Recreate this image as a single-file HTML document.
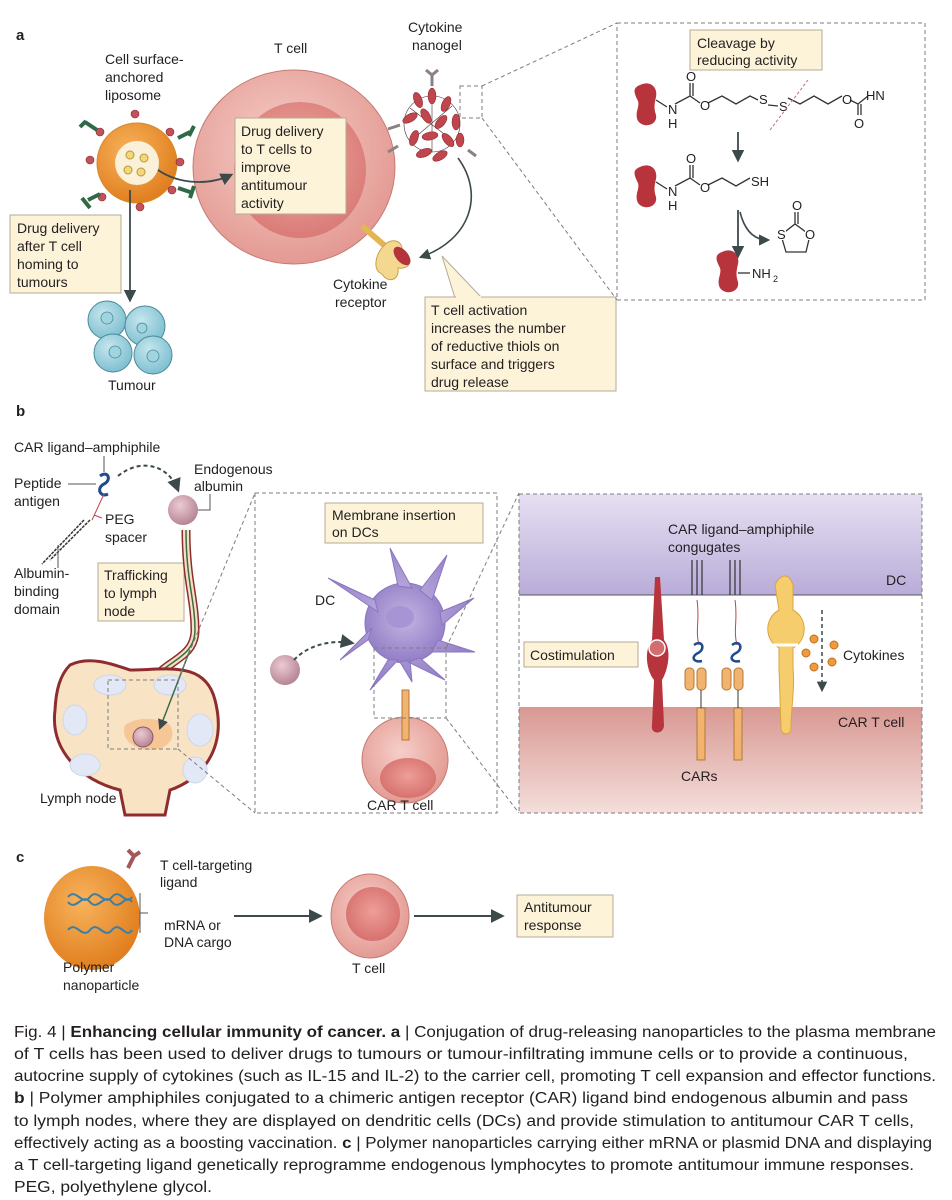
<!DOCTYPE html>
<html><head><meta charset="utf-8"><style>
html,body{margin:0;padding:0;background:#fff;}
svg{display:block;font-family:"Liberation Sans",sans-serif;}
.t{font-size:14px;fill:#231f20;}
.b{fill:#fdf3d9;stroke:#b5ab94;stroke-width:1;}
.d{fill:none;stroke:#7d7d7d;stroke-width:1;stroke-dasharray:4 3;}
.cap{font-size:15.5px;fill:#231f20;}
.ch{font-size:13px;fill:#231f20;}
.bond{stroke:#333;stroke-width:1.3;fill:none;}
</style></head><body>
<svg width="952" height="1200" viewBox="0 0 952 1200" xmlns="http://www.w3.org/2000/svg">
<defs>
<radialGradient id="tc" cx="45%" cy="40%" r="60%"><stop offset="0" stop-color="#f6cfc8"/><stop offset="1" stop-color="#e39a93"/></radialGradient>
<radialGradient id="nuc" cx="50%" cy="45%" r="60%"><stop offset="0" stop-color="#ee9e98"/><stop offset="1" stop-color="#d46d6a"/></radialGradient>
<radialGradient id="or" cx="40%" cy="35%" r="65%"><stop offset="0" stop-color="#f8b35c"/><stop offset="1" stop-color="#e07f1f"/></radialGradient>
<radialGradient id="alb" cx="40%" cy="35%" r="65%"><stop offset="0" stop-color="#eccbd3"/><stop offset="1" stop-color="#b68594"/></radialGradient>
<radialGradient id="dc" cx="50%" cy="45%" r="60%"><stop offset="0" stop-color="#c4b4e2"/><stop offset="1" stop-color="#8d79c4"/></radialGradient>
<radialGradient id="tum" cx="40%" cy="35%" r="65%"><stop offset="0" stop-color="#c6e6ee"/><stop offset="1" stop-color="#7fc0d1"/></radialGradient>
<linearGradient id="pur" x1="0" y1="0" x2="0" y2="1"><stop offset="0" stop-color="#e6e0f2"/><stop offset="1" stop-color="#b9acd9"/></linearGradient>
<linearGradient id="pk" x1="0" y1="0" x2="0" y2="1"><stop offset="0" stop-color="#d99892"/><stop offset="1" stop-color="#f4dedb"/></linearGradient>
<marker id="ar" viewBox="0 0 10 10" refX="8" refY="5" markerWidth="7" markerHeight="7" orient="auto"><path d="M0,0 L10,5 L0,10 z" fill="#3c4a4c"/></marker>
</defs>

<!-- ===== Panel a ===== -->
<text x="16" y="40" style="font-size:15px;font-weight:bold" class="t">a</text>
<text class="t" x="105" y="64">Cell surface-</text>
<text class="t" x="105" y="82">anchored</text>
<text class="t" x="105" y="100">liposome</text>
<text class="t" x="274" y="53">T cell</text>
<text class="t" x="408" y="32">Cytokine</text>
<text class="t" x="412" y="50">nanogel</text>

<ellipse cx="294" cy="167" rx="101" ry="97" fill="url(#tc)" stroke="#c57a74" stroke-width="1"/>
<ellipse cx="300" cy="170" rx="66" ry="68" fill="url(#nuc)" opacity="0.8"/>

<g>
<circle cx="137" cy="163" r="40" fill="url(#or)" stroke="#d48a2c"/>
<circle cx="137" cy="163" r="22" fill="#fbf0d8"/>
<circle cx="130" cy="155" r="4" fill="#f3d77a" stroke="#b39a3b"/>
<circle cx="144" cy="158" r="4" fill="#f3d77a" stroke="#b39a3b"/>
<circle cx="128" cy="170" r="4" fill="#f3d77a" stroke="#b39a3b"/>
<circle cx="141" cy="172" r="4" fill="#f3d77a" stroke="#b39a3b"/>
<g fill="#c4515a" stroke="#7a2a30" stroke-width="0.6">
<circle cx="135" cy="114" r="4"/><circle cx="100" cy="132" r="4"/><circle cx="90" cy="160" r="4"/><circle cx="180" cy="162" r="4"/>
<circle cx="170" cy="132" r="4"/><circle cx="102" cy="197" r="4"/><circle cx="140" cy="207" r="4"/><circle cx="172" cy="190" r="4"/></g>
<g stroke="#2f6a44" stroke-width="4" fill="none">
<path d="M85,122 l12,8 M80,127 l6,-6"/><path d="M190,132 l-12,6 M194,126 l-5,10"/><path d="M88,200 l12,-6 M82,198 l8,10"/><path d="M190,192 l-12,-4 M194,186 l-4,12"/></g>
</g>
<path d="M158,170 C180,185 210,185 231,175" fill="none" stroke="#3c4a4c" stroke-width="1.8" marker-end="url(#ar)"/>

<rect class="b" x="235" y="118" width="111" height="96"/>
<text class="t" x="241" y="136">Drug delivery</text>
<text class="t" x="241" y="154">to T cells to</text>
<text class="t" x="241" y="172">improve</text>
<text class="t" x="241" y="190">antitumour</text>
<text class="t" x="241" y="208">activity</text>

<rect class="b" x="10" y="215" width="111" height="78"/>
<text class="t" x="17" y="233">Drug delivery</text>
<text class="t" x="17" y="251">after T cell</text>
<text class="t" x="17" y="269">homing to</text>
<text class="t" x="17" y="287">tumours</text>
<line x1="130" y1="190" x2="130" y2="300" stroke="#3c4a4c" stroke-width="1.8" marker-end="url(#ar)"/>

<g fill="url(#tum)" stroke="#4a8a9a" stroke-width="1">
<circle cx="107" cy="320" r="19"/><circle cx="145" cy="326" r="20"/><circle cx="113" cy="353" r="19"/><circle cx="153" cy="355" r="19"/></g>
<g fill="#9fd4e0" stroke="#4a8a9a" stroke-width="0.8"><circle cx="107" cy="318" r="6"/><circle cx="142" cy="328" r="5"/><circle cx="115" cy="352" r="6"/><circle cx="153" cy="356" r="6"/></g>
<text class="t" x="108" y="390">Tumour</text>

<g stroke="#4a2b2d" stroke-width="0.6" fill="none"><circle cx="432" cy="124" r="28"/><path d="M410,108 L452,140 M412,140 L452,106 M432,96 L432,152"/></g>
<g fill="#c0454d" stroke="#7d2229" stroke-width="0.5">
<ellipse cx="418" cy="100" rx="4" ry="8" transform="rotate(-20 418 100)"/>
<ellipse cx="432" cy="96" rx="4" ry="8"/>
<ellipse cx="446" cy="104" rx="4" ry="8" transform="rotate(25 446 104)"/>
<ellipse cx="410" cy="118" rx="4" ry="8" transform="rotate(60 410 118)"/>
<ellipse cx="426" cy="116" rx="4" ry="8" transform="rotate(-30 426 116)"/>
<ellipse cx="441" cy="122" rx="4" ry="8" transform="rotate(40 441 122)"/>
<ellipse cx="456" cy="122" rx="4" ry="8"/>
<ellipse cx="414" cy="138" rx="4" ry="8" transform="rotate(20 414 138)"/>
<ellipse cx="430" cy="136" rx="4" ry="8" transform="rotate(80 430 136)"/>
<ellipse cx="448" cy="140" rx="4" ry="8" transform="rotate(-40 448 140)"/>
<ellipse cx="424" cy="153" rx="4" ry="8" transform="rotate(70 424 153)"/>
<ellipse cx="440" cy="156" rx="4" ry="8" transform="rotate(60 440 156)"/>
<ellipse cx="460" cy="140" rx="4" ry="7"/>
</g>
<g stroke="#8a8180" stroke-width="3" fill="none"><path d="M432,86 l0,-12 M426,70 l6,5 l6,-5"/><path d="M400,125 l-12,4"/><path d="M398,146 l-10,6"/><path d="M468,150 l8,6"/></g>
<path d="M458,158 C485,195 470,240 421,257" fill="none" stroke="#3c4a4c" stroke-width="1.6" marker-end="url(#ar)"/>

<g>
<path d="M362,226 L392,252" stroke="#e3b651" stroke-width="6"/>
<path d="M382,248 c8,-12 22,-8 20,4 c12,4 10,18 -4,16 c2,12 -10,16 -16,6 c-10,-4 -6,-20 0,-26z" fill="#f5d88f" stroke="#c9a24a"/>
<ellipse cx="402" cy="256" rx="6" ry="11" transform="rotate(-40 402 256)" fill="#b5333b"/>
</g>
<text class="t" x="333" y="289">Cytokine</text>
<text class="t" x="335" y="307">receptor</text>

<path d="M442,256 L455,298 L482,298 Z" fill="#fdf3d9" stroke="#b5ab94"/>
<rect class="b" x="425" y="297" width="191" height="94"/>
<line x1="456" y1="297" x2="481" y2="297" stroke="#fdf3d9" stroke-width="2"/>
<text class="t" x="431" y="315">T cell activation</text>
<text class="t" x="431" y="333">increases the number</text>
<text class="t" x="431" y="351">of reductive thiols on</text>
<text class="t" x="431" y="369">surface and triggers</text>
<text class="t" x="431" y="387">drug release</text>

<rect class="d" x="460" y="86" width="22" height="32"/>
<line class="d" x1="482" y1="86" x2="617" y2="23"/>
<line class="d" x1="482" y1="118" x2="617" y2="300"/>
<rect class="d" x="617" y="23" width="308" height="277"/>

<rect class="b" x="690" y="30" width="132" height="40"/>
<text class="t" x="697" y="48">Cleavage by</text>
<text class="t" x="697" y="65">reducing activity</text>
<g fill="#b8343c">
<path d="M640,85 c10,-5 18,2 16,12 c-2,8 -2,12 0,18 c2,10 -12,14 -18,6 c-4,-8 2,-14 0,-20 c-4,-8 -6,-13 2,-16z"/>
<path d="M640,167 c10,-5 18,2 16,12 c-2,8 -2,12 0,18 c2,10 -12,14 -18,6 c-4,-8 2,-14 0,-20 c-4,-8 -6,-13 2,-16z"/>
<path d="M722,252 c10,-5 18,2 16,12 c-2,8 -2,12 0,18 c2,10 -12,14 -18,6 c-4,-8 2,-14 0,-20 c-4,-8 -6,-13 2,-16z"/>
</g>
<path class="bond" d="M656,100 L667,107 M675,104 L690,96 L700,103 M690,96 L690,83 M693,96 L693,83 M708,103 L722,96 L736,104 L750,96 L758,100 M768,105 L778,106 M788,98 L800,104 L814,96 L828,104 L842,96 M850,100 L858,104 L868,96 M858,104 L858,115 M861,104 L861,115"/>
<text class="ch" x="668" y="114">N</text><text class="ch" x="668" y="128">H</text>
<text class="ch" x="686" y="81">O</text><text class="ch" x="700" y="110">O</text>
<text class="ch" x="759" y="104">S</text><text class="ch" x="779" y="111">S</text>
<text class="ch" x="842" y="104">O</text><text class="ch" x="866" y="100">HN</text>
<text class="ch" x="854" y="128">O</text>
<line x1="770" y1="130" x2="808" y2="80" stroke="#c0707a" stroke-width="1" stroke-dasharray="3 2"/>
<line x1="738" y1="132" x2="738" y2="160" stroke="#3c4a4c" stroke-width="1.8" marker-end="url(#ar)"/>
<path class="bond" d="M656,182 L667,189 M675,186 L690,178 L700,185 M690,178 L690,165 M693,178 L693,165 M708,185 L722,178 L736,186 L750,178"/>
<text class="ch" x="668" y="196">N</text><text class="ch" x="668" y="210">H</text>
<text class="ch" x="686" y="163">O</text><text class="ch" x="700" y="192">O</text>
<text class="ch" x="751" y="186">SH</text>
<line x1="738" y1="210" x2="738" y2="256" stroke="#3c4a4c" stroke-width="1.8" marker-end="url(#ar)"/>
<path d="M740,212 C745,232 755,240 768,240" fill="none" stroke="#3c4a4c" stroke-width="1.6" marker-end="url(#ar)"/>
<path class="bond" d="M781,235 L795,224 L810,235 L806,252 L786,252 Z M795,224 L795,212 M798,224 L798,212"/>
<rect x="776" y="228" width="10" height="12" fill="#fff"/><rect x="805" y="228" width="10" height="12" fill="#fff"/>
<text class="ch" x="777" y="239">S</text><text class="ch" x="805" y="239">O</text><text class="ch" x="792" y="210">O</text>
<line x1="738" y1="273" x2="750" y2="273" class="bond"/>
<text class="ch" x="752" y="278">NH</text><text x="773" y="282" style="font-size:9px" fill="#231f20">2</text>

<!-- ===== Panel b ===== -->
<text x="16" y="416" style="font-size:15px;font-weight:bold" class="t">b</text>
<text class="t" x="14" y="452">CAR ligand–amphiphile</text>
<text class="t" x="14" y="488">Peptide</text>
<text class="t" x="14" y="506">antigen</text>
<text class="t" x="105" y="524">PEG</text>
<text class="t" x="105" y="542">spacer</text>
<text class="t" x="14" y="578">Albumin-</text>
<text class="t" x="14" y="596">binding</text>
<text class="t" x="14" y="614">domain</text>
<text class="t" x="194" y="474">Endogenous</text>
<text class="t" x="194" y="491">albumin</text>
<path d="M100,476 c8,-6 12,4 4,8 c-8,4 -4,14 4,10" fill="none" stroke="#1f4c8a" stroke-width="3"/>
<line x1="104" y1="456" x2="104" y2="472" stroke="#555"/>
<line x1="68" y1="484" x2="96" y2="484" stroke="#555"/>
<path d="M104,494 L92,520 M94,515 L102,518" stroke="#c0444c" fill="none"/>
<path d="M90,520 l-40,40 M84,520 l-42,44" stroke="#333" stroke-width="1.5" stroke-dasharray="3 1"/>
<line x1="58" y1="545" x2="58" y2="568" stroke="#555"/>
<path d="M118,476 C140,458 168,464 178,490" fill="none" stroke="#3c4a4c" stroke-width="2" stroke-dasharray="4 3" marker-end="url(#ar)"/>
<circle cx="183" cy="510" r="15" fill="url(#alb)"/>
<path d="M198,510 L210,510 L210,494" fill="none" stroke="#555"/>

<rect class="b" x="98" y="563" width="86" height="58"/>
<text class="t" x="104" y="580">Trafficking</text>
<text class="t" x="104" y="598">to lymph</text>
<text class="t" x="104" y="616">node</text>

<path d="M186,530 C186,580 195,600 195,630 C195,665 150,660 145,700" fill="none" stroke="#8f2c30" stroke-width="9"/>
<path d="M186,530 C186,580 195,600 195,630 C195,665 150,660 145,700" fill="none" stroke="#f3e2c4" stroke-width="6"/>
<path d="M186,530 C186,580 195,600 195,630 C195,665 150,660 145,700" fill="none" stroke="#3f6a48" stroke-width="1.5"/>
<path d="M70,665 C90,655 115,665 130,670 C165,670 205,660 215,700 C228,750 200,780 170,790 L165,815 L125,815 L120,790 C80,780 50,750 55,710 C56,690 60,675 70,665Z" fill="#f8e4c4" stroke="#8f2c30" stroke-width="3"/>
<g fill="#e2e8f5" stroke="#cfd6ea"><ellipse cx="110" cy="685" rx="16" ry="10"/><ellipse cx="170" cy="685" rx="16" ry="10"/><ellipse cx="75" cy="720" rx="12" ry="15"/><ellipse cx="200" cy="730" rx="13" ry="16"/><ellipse cx="85" cy="765" rx="15" ry="11"/><ellipse cx="195" cy="770" rx="12" ry="13"/></g>
<path d="M125,725 c15,-10 35,-6 45,0 c8,15 -5,25 -20,25 c-15,0 -30,-10 -25,-25z" fill="#f6c697"/>
<circle cx="143" cy="737" r="10" fill="url(#alb)" stroke="#8a5566"/>
<rect class="d" x="108" y="680" width="70" height="69"/>
<line x1="190" y1="650" x2="160" y2="728" stroke="#3f6a48" stroke-width="1.5" marker-end="url(#ar)"/>
<text class="t" x="40" y="803">Lymph node</text>
<line class="d" x1="178" y1="680" x2="255" y2="493"/>
<line class="d" x1="178" y1="749" x2="255" y2="813"/>

<rect class="d" x="255" y="493" width="242" height="320"/>
<rect class="b" x="325" y="503" width="158" height="40"/>
<text class="t" x="332" y="520">Membrane insertion</text>
<text class="t" x="332" y="537">on DCs</text>
<text class="t" x="315" y="605">DC</text>
<g fill="url(#dc)" stroke="#8b76c1">
<circle cx="405" cy="623" r="40"/>
<path d="M375,600 L328,578 L378,612 Z M398,586 L390,548 L412,588 Z M420,590 L447,555 L432,600 Z M440,612 L474,598 L442,625 Z M438,640 L475,652 L432,652 Z M420,658 L445,680 L408,662 Z M388,660 L370,690 L398,660 Z M368,640 L340,660 L372,628 Z M410,660 L412,682 L400,662Z"/>
</g>
<ellipse cx="400" cy="617" rx="14" ry="11" fill="#a794d4"/>
<circle cx="285" cy="670" r="15" fill="url(#alb)"/>
<path d="M294,660 C310,643 335,640 352,643" fill="none" stroke="#3c4a4c" stroke-width="2" stroke-dasharray="4 3" marker-end="url(#ar)"/>
<circle cx="405" cy="760" r="43" fill="url(#tc)" stroke="#c57a74"/>
<ellipse cx="408" cy="778" rx="28" ry="20" fill="url(#nuc)"/>
<rect x="402" y="690" width="7" height="50" fill="#f1b36d" stroke="#b47a3b"/>
<text class="t" x="367" y="810">CAR T cell</text>
<rect class="d" x="374" y="648" width="72" height="70"/>
<line class="d" x1="446" y1="648" x2="519" y2="493"/>
<line class="d" x1="446" y1="718" x2="519" y2="813"/>

<rect x="519" y="494" width="403" height="101" fill="url(#pur)"/>
<rect x="519" y="707" width="403" height="106" fill="url(#pk)"/>
<line x1="519" y1="595" x2="922" y2="595" stroke="#555"/>
<rect class="d" x="519" y="494" width="403" height="319"/>
<text class="t" x="668" y="534">CAR ligand–amphiphile</text>
<text class="t" x="668" y="552">congugates</text>
<text class="t" x="886" y="585">DC</text>
<text class="t" x="838" y="727">CAR T cell</text>
<text class="t" x="681" y="781">CARs</text>
<text class="t" x="843" y="660">Cytokines</text>
<rect class="b" x="524" y="642" width="114" height="25"/>
<text class="t" x="530" y="660">Costimulation</text>
<path d="M655,577 L660,577 L664,640 C672,650 668,670 662,680 L664,725 C664,735 650,735 652,725 L654,680 C646,670 644,650 652,640 Z" fill="#b8343c"/>
<circle cx="657" cy="648" r="8" fill="#d46d70" stroke="#fff" stroke-width="1.5"/>
<g stroke="#333" stroke-width="1.2" fill="none"><path d="M692,560 v35 M697,560 v35 M702,560 v35 M730,560 v35 M735,560 v35 M740,560 v35"/></g>
<path d="M697,600 c3,20 -2,30 2,45 M735,600 c3,20 -2,30 2,45" stroke="#c0444c" fill="none"/>
<path d="M694,645 c8,-6 12,4 4,8 c-8,4 -4,10 4,8 M732,645 c8,-6 12,4 4,8 c-8,4 -4,10 4,8" fill="none" stroke="#1f4c8a" stroke-width="2.5"/>
<g fill="#f1b36d" stroke="#b47a3b"><rect x="685" y="668" width="9" height="22" rx="4"/><rect x="697" y="668" width="9" height="22" rx="4"/><rect x="722" y="668" width="9" height="22" rx="4"/><rect x="734" y="668" width="9" height="22" rx="4"/>
<rect x="697" y="708" width="8" height="52"/><rect x="734" y="708" width="8" height="52"/></g>
<line x1="701" y1="690" x2="701" y2="708" stroke="#333"/><line x1="738" y1="690" x2="738" y2="708" stroke="#333"/>
<path d="M775,585 c6,-12 14,-12 18,0 l0,25 c15,8 15,30 0,38 l0,20 c2,20 -2,40 -2,60 c0,8 -10,8 -10,0 l-2,-60 l0,-20 c-15,-8 -15,-30 0,-38 z" fill="#f5cd6c" stroke="#d9a53f"/>
<path d="M770,645 h28" stroke="#fff" stroke-width="3"/>
<line x1="822" y1="610" x2="822" y2="690" stroke="#3c4a4c" stroke-width="1.5" stroke-dasharray="4 3" marker-end="url(#ar)"/>
<g fill="#ef9a3f" stroke="#c06f20"><circle cx="814" cy="639" r="4"/><circle cx="806" cy="653" r="4"/><circle cx="834" cy="645" r="4"/><circle cx="814" cy="667" r="4"/><circle cx="832" cy="662" r="4"/></g>

<!-- ===== Panel c ===== -->
<text x="16" y="862" style="font-size:15px;font-weight:bold" class="t">c</text>
<ellipse cx="92" cy="918" rx="48" ry="52" fill="url(#or)"/>
<path d="M128,868 l6,-12 M128,850 l6,6 l6,-4" stroke="#a3585a" stroke-width="4" fill="none"/>
<path d="M68,897 c8,-10 14,10 22,0 s14,10 22,0 s14,10 20,0 M68,902 c8,10 14,-10 22,0 s14,-10 22,0 s14,-10 20,0" stroke="#3c7fa5" stroke-width="2" fill="none"/>
<path d="M68,930 c8,-10 14,10 22,0 s14,10 22,0 s14,10 20,0" stroke="#3c7fa5" stroke-width="2" fill="none"/>
<path d="M140,893 v40 M140,913 h8" stroke="#555" fill="none"/>
<text class="t" x="160" y="870">T cell-targeting</text>
<text class="t" x="160" y="887">ligand</text>
<text class="t" x="164" y="930">mRNA or</text>
<text class="t" x="164" y="947">DNA cargo</text>
<text class="t" x="63" y="972">Polymer</text>
<text class="t" x="63" y="990">nanoparticle</text>
<line x1="234" y1="916" x2="320" y2="916" stroke="#3c4a4c" stroke-width="2" marker-end="url(#ar)"/>
<ellipse cx="370" cy="916" rx="39" ry="42" fill="url(#tc)" stroke="#c57a74"/>
<circle cx="373" cy="914" r="27" fill="url(#nuc)"/>
<text class="t" x="352" y="973">T cell</text>
<line x1="414" y1="916" x2="502" y2="916" stroke="#3c4a4c" stroke-width="2" marker-end="url(#ar)"/>
<rect class="b" x="517" y="895" width="96" height="42"/>
<text class="t" x="524" y="912">Antitumour</text>
<text class="t" x="524" y="930">response</text>

<text class="cap" x="14" y="1037" textLength="922" lengthAdjust="spacingAndGlyphs">Fig. 4 | <tspan font-weight="bold">Enhancing cellular immunity of cancer. a</tspan> | Conjugation of drug-releasing nanoparticles to the plasma membrane</text>
<text class="cap" x="14" y="1059" textLength="894" lengthAdjust="spacingAndGlyphs">of T cells has been used to deliver drugs to tumours or tumour-infiltrating immune cells or to provide a continuous,</text>
<text class="cap" x="14" y="1081" textLength="922" lengthAdjust="spacingAndGlyphs">autocrine supply of cytokines (such as IL-15 and IL-2) to the carrier cell, promoting T cell expansion and effector functions.</text>
<text class="cap" x="14" y="1103" textLength="894" lengthAdjust="spacingAndGlyphs"><tspan font-weight="bold">b</tspan> | Polymer amphiphiles conjugated to a chimeric antigen receptor (CAR) ligand bind endogenous albumin and pass</text>
<text class="cap" x="14" y="1126" textLength="900" lengthAdjust="spacingAndGlyphs">to lymph nodes, where they are displayed on dendritic cells (DCs) and provide stimulation to antitumour CAR T cells,</text>
<text class="cap" x="14" y="1148" textLength="918" lengthAdjust="spacingAndGlyphs">effectively acting as a boosting vaccination. <tspan font-weight="bold">c</tspan> | Polymer nanoparticles carrying either mRNA or plasmid DNA and displaying</text>
<text class="cap" x="14" y="1170" textLength="900" lengthAdjust="spacingAndGlyphs">a T cell-targeting ligand genetically reprogramme endogenous lymphocytes to promote antitumour immune responses.</text>
<text class="cap" x="14" y="1192" textLength="198" lengthAdjust="spacingAndGlyphs">PEG, polyethylene glycol.</text>
</svg>
</body></html>
